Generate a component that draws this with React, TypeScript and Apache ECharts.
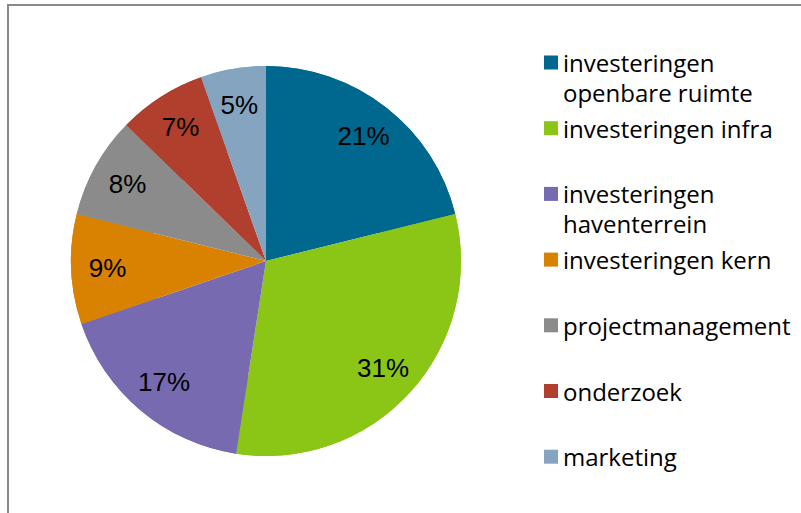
import React, { useEffect, useRef } from "react";
import * as echarts from "echarts";

const categories = [
  "investeringen openbare ruimte",
  "investeringen infra",
  "investeringen haventerrein",
  "investeringen kern",
  "projectmanagement",
  "onderzoek",
  "marketing",
];
const legendLines = [
  ["investeringen", "openbare ruimte"],
  ["investeringen infra", ""],
  ["investeringen", "haventerrein"],
  ["investeringen kern", ""],
  ["projectmanagement", ""],
  ["onderzoek", ""],
  ["marketing", ""],
];
const shares = [21.1, 31.3, 17.3, 9.1, 8.4, 7.3, 5.4];
const colors = ["#00678F", "#8BC516", "#776AB1", "#D98100", "#8B8B8B", "#B13F2D", "#84A4C0"];

export default function App() {
  const ref = useRef<HTMLDivElement>(null);
  useEffect(() => {
    if (!ref.current) return;
    const chart = echarts.init(ref.current, undefined, { renderer: "svg" });
    const data = categories.map((name, i) => ({ name, value: shares[i] }));
    const labelMap: Record<string, string> = {};
    // leading blank line keeps the first text line level with the legend square
    categories.forEach((c, i) => (labelMap[c] = "\n" + legendLines[i].join("\n")));
    chart.setOption({
      animation: false,
      color: colors,
      graphic: [
        {
          type: "rect",
          shape: { x: 8, y: 5, width: 900, height: 600 },
          style: { fill: "none", stroke: "#898989", lineWidth: 2 },
          silent: true,
        },
      ],
      legend: {
        orient: "vertical",
        left: 544,
        top: 17.5,
        padding: 0,
        itemWidth: 14,
        itemHeight: 14,
        itemGap: -24.3,
        icon: "rect",
        selectedMode: false,
        data: categories,
        formatter: (name: string) => labelMap[name],
        textStyle: {
          fontFamily: "Open Sans",
          fontSize: 24,
          lineHeight: 30,
          color: "#000",
        },
      },
      series: [
        {
          type: "pie",
          center: [266, 261],
          radius: [0, 195],
          startAngle: 90,
          clockwise: true,
          silent: true,
          label: { show: false },
          labelLine: { show: false },
          data,
        },
        {
          type: "pie",
          center: [266, 261],
          radius: [116, 195],
          startAngle: 90,
          clockwise: true,
          silent: true,
          label: {
            show: true,
            position: "inside",
            fontFamily: "Liberation Sans",
            fontSize: 26,
            color: "#000",
            formatter: (p: any) => Math.round(p.percent) + "%",
          },
          labelLine: { show: false },
          data,
        },
      ],
    });
    return () => chart.dispose();
  }, []);
  return (
    <div
      ref={ref}
      style={{ position: "absolute", left: 0, top: 0, width: 801, height: 513, background: "#fff" }}
    />
  );
}
